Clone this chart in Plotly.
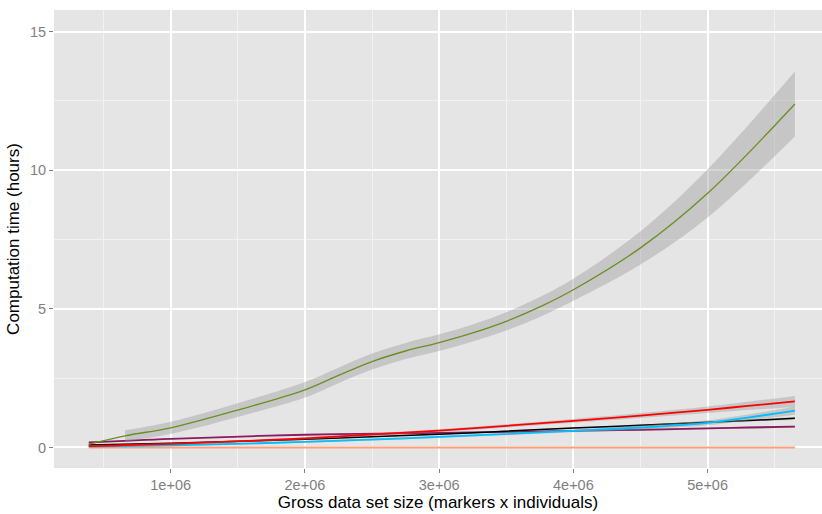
import plotly.graph_objects as go

# Data set size in millions of (markers x individuals)
size_green = [0.39, 0.66, 1.0, 1.5, 2.0, 2.25, 2.5, 2.75, 3.0, 3.25, 3.5, 3.75, 4.0, 4.5, 5.0, 5.65]
time_green = [0.12, 0.42, 0.71, 1.35, 2.08, 2.60, 3.10, 3.48, 3.78, 4.13, 4.55, 5.07, 5.69, 7.20, 9.17, 12.39]
se_green = [0.20, 0.20, 0.22, 0.25, 0.28, 0.28, 0.29, 0.29, 0.30, 0.31, 0.33, 0.36, 0.40, 0.60, 0.87, 1.17]

size_low = [0.39, 1.0, 2.0, 3.0, 4.0, 4.5, 5.0, 5.3, 5.65]
time_red = [0.05, 0.13, 0.33, 0.61, 0.96, 1.15, 1.36, 1.50, 1.66]
time_black = [0.09, 0.15, 0.30, 0.48, 0.70, 0.80, 0.91, 0.97, 1.05]
time_blue = [0.03, 0.08, 0.20, 0.38, 0.60, 0.72, 0.89, 1.08, 1.33]
time_purple = [0.18, 0.31, 0.46, 0.53, 0.60, 0.64, 0.69, 0.72, 0.75]
time_salmon = [0.0, 0.0, 0.0, 0.0, 0.0, 0.0, 0.0, 0.0, 0.0]

se_red = [0.03, 0.03, 0.04, 0.05, 0.07, 0.09, 0.12, 0.15, 0.20]
se_black = [0.02, 0.02, 0.02, 0.02, 0.03, 0.03, 0.04, 0.04, 0.05]
se_blue = [0.02, 0.02, 0.03, 0.04, 0.05, 0.07, 0.09, 0.11, 0.15]
se_purple = [0.02, 0.02, 0.02, 0.02, 0.02, 0.03, 0.03, 0.03, 0.04]
se_salmon = [0.01, 0.01, 0.01, 0.01, 0.01, 0.01, 0.01, 0.01, 0.01]

x_ticks = [1, 2, 3, 4, 5]
x_tick_text = ["1e+06", "2e+06", "3e+06", "4e+06", "5e+06"]
y_ticks = [0, 5, 10, 15]

band_fill = "rgba(153,153,153,0.4)"
FONT = "Liberation Sans, Arial, sans-serif"
SCALE = 1e6

fig = go.Figure()


def add_smooth(xs, ys, se, color, width, band_from=0):
    bx = [v * SCALE for v in xs[band_from:]]
    hi = [y + s for y, s in zip(ys[band_from:], se[band_from:])]
    lo = [y - s for y, s in zip(ys[band_from:], se[band_from:])]
    # confidence ribbon: lower edge, then upper edge filled down to it
    fig.add_trace(go.Scatter(
        x=bx, y=lo, mode="lines", line=dict(width=0, shape="spline"),
        hoverinfo="skip", showlegend=False))
    fig.add_trace(go.Scatter(
        x=bx, y=hi, mode="lines", fill="tonexty", fillcolor=band_fill,
        line=dict(width=0, shape="spline"), hoverinfo="skip", showlegend=False))
    fig.add_trace(go.Scatter(
        x=[v * SCALE for v in xs], y=ys, mode="lines",
        line=dict(color=color, width=width, shape="spline"), showlegend=False))


add_smooth(size_low, time_salmon, se_salmon, "#FFA07A", 1.8)
add_smooth(size_low, time_purple, se_purple, "#8B1C62", 1.8)
add_smooth(size_low, time_black, se_black, "#000000", 1.5)
add_smooth(size_low, time_blue, se_blue, "#00BFFF", 1.8)
add_smooth(size_low, time_red, se_red, "#FF0000", 1.8)
add_smooth(size_green, time_green, se_green, "#6B8E23", 1.3, band_from=1)

axis_common = dict(
    showline=False, zeroline=False, ticks="outside", ticklen=4, tickwidth=1,
    tickcolor="#7F7F7F", gridcolor="#FFFFFF", gridwidth=1.5,
    tickfont=dict(family=FONT, size=14.5, color="#7F7F7F"),
)

fig.update_xaxes(
    range=[0.131 * SCALE, 5.852 * SCALE],
    tickvals=[v * SCALE for v in x_ticks], ticktext=x_tick_text,
    minor=dict(tickvals=[(v + 0.5) * SCALE for v in range(0, 6)],
               showgrid=True, gridcolor="#F2F2F2", gridwidth=0.8, ticks=""),
    title=dict(text="Gross data set size (markers x individuals)", standoff=2,
               font=dict(family=FONT, size=17, color="#000000")),
    **axis_common,
)
fig.update_yaxes(
    range=[-0.74, 15.78], tickvals=y_ticks,
    minor=dict(tickvals=[2.5, 7.5, 12.5], showgrid=True, gridcolor="#F2F2F2",
               gridwidth=0.8, ticks=""),
    title=dict(text="Computation time (hours)", standoff=6,
               font=dict(family=FONT, size=17, color="#000000")),
    **axis_common,
)

fig.update_layout(
    width=822, height=514,
    margin=dict(l=54, r=0, t=10, b=46),
    paper_bgcolor="#FFFFFF", plot_bgcolor="#E5E5E5",
    showlegend=False,
)

fig.write_html("out.html")
